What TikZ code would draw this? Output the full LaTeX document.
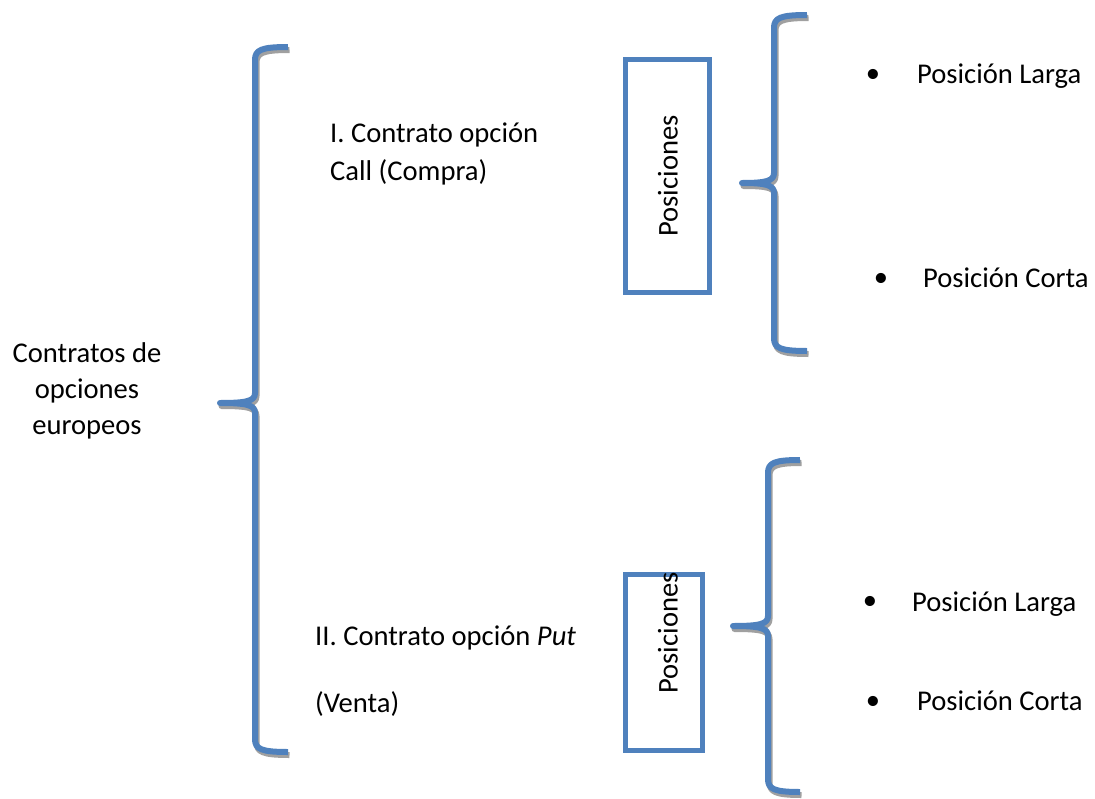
\documentclass[tikz,border=0pt]{standalone}
\usepackage{fontspec}
\setmainfont{Carlito}
\definecolor{braceblue}{HTML}{4F81BD}
\definecolor{shadowgray}{HTML}{A0A0A0}
\newcommand\drawcurlybrace[7]{% style, X, top, middle, bottom, hook end x, tip x
  \draw[#1] (#6,#3) .. controls ({#2+6},#3) and (#2,{#3+3}) .. (#2,{#3+13})
    -- (#2,{#4-10}) .. controls (#2,{#4-2}) and ({#2-8},#4) .. (#7,#4)
    .. controls ({#2-8},#4) and (#2,{#4+2}) .. (#2,{#4+10})
    -- (#2,{#5-13}) .. controls (#2,{#5-3}) and ({#2+6},#5) .. (#6,#5);}
\begin{document}
\begin{tikzpicture}[x=1pt,y=-1pt,
  txt/.style={font=\fontsize{28.6}{38}\selectfont, inner sep=0pt, anchor=base west},
  ctxt/.style={txt, anchor=base},
  bul/.style={font=\fontsize{28.6}{38}\selectfont, inner sep=0pt, anchor=center},
  bracestroke/.style={draw=braceblue, line width=6pt, line join=round},
  braceshadow/.style={draw=shadowgray, line width=6pt, line join=round, shift={(1.5,3)}},
  posbox/.style={draw=braceblue, line width=5pt, inner sep=0pt}]
\useasboundingbox (0,0) rectangle (1095,798);
% left label
\node[ctxt] (l1) at (87,362) {Contratos de};
\node[ctxt] (l2) at (87,398) {opciones};
\node[ctxt] (l3) at (87,434) {europeos};
% braces
\drawcurlybrace{braceshadow}{255}{47}{403}{752}{288}{220}
\drawcurlybrace{bracestroke}{255}{47}{403}{752}{288}{220}
\drawcurlybrace{braceshadow}{774}{15}{183}{351}{807}{742}
\drawcurlybrace{bracestroke}{774}{15}{183}{351}{807}{742}
\drawcurlybrace{braceshadow}{768}{460}{626}{792}{800}{733}
\drawcurlybrace{bracestroke}{768}{460}{626}{792}{800}{733}
% contract labels
\node[txt] (c1a) at (330,142) {I. Contrato opción};
\node[txt] (c1b) at (330,180) {Call (Compra)};
\node[txt] (c2a) at (315,645) {II. Contrato opción \textit{Put}};
\node[txt] (c2b) at (315,712) {(Venta)};
% boxes
\node[posbox, minimum width=84pt, minimum height=233pt] (box1) at (667.5,176) {};
\node[bul, rotate=90] (p1) at (668,176) {Posiciones};
\node[posbox, minimum width=77pt, minimum height=176pt] (box2) at (664,662.5) {};
\node[bul, rotate=90] (p2) at (668,633) {Posiciones};
% bullets
\node[bul] (b1) at (873,76) {•};
\node[txt] (t1) at (917,83) {Posición Larga};
\node[bul] (b2) at (881,280) {•};
\node[txt] (t2) at (923,287) {Posición Corta};
\node[bul] (b3) at (870,603) {•};
\node[txt] (t3) at (912,611) {Posición Larga};
\node[bul] (b4) at (873,703) {•};
\node[txt] (t4) at (917,710) {Posición Corta};
\end{tikzpicture}
\end{document}
